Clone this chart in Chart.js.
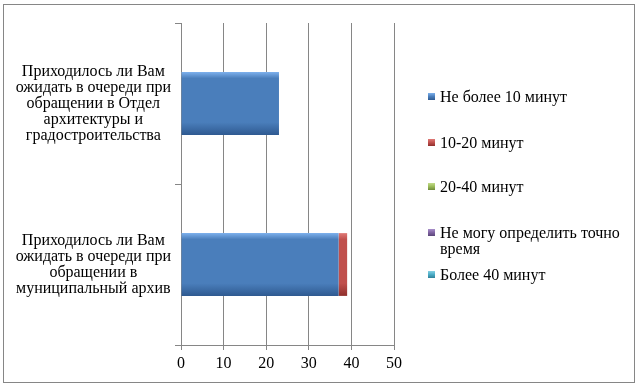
<!DOCTYPE html>
<html lang="ru">
  <head>
    <meta charset="UTF-8" />
    <title>Ожидание в очереди</title>
    <script src="https://cdn.jsdelivr.net/npm/chart.js"></script>
    <style>
      body { margin: 0; background: #fff; }
      #wrap { position: relative; width: 639px; height: 388px; }
      #frame {
        position: absolute; left: 3px; top: 4px; width: 630px; height: 377px;
        border: 1px solid #868686; box-sizing: content-box;
      }
      #myChart { position: absolute; left: 0; top: 0; }
      .leg {
        position: absolute; left: 428px; display: flex; align-items: flex-start;
        font: 16px "Liberation Serif", "Times New Roman", serif; line-height: 16px; color: #000;
      }
      .leg i { display: block; width: 7px; height: 7px; margin: 4px 5px 0 0; flex: none; }
      .leg span { max-width: 192px; }
    </style>
  </head>
  <body>
    <div id="wrap">
      <div id="frame"></div>
      <canvas id="myChart" width="639" height="388"></canvas>
    </div>

    <script>
      const categories = [
        ["Приходилось ли Вам", "ожидать в очереди при", "обращении в Отдел", "архитектуры и", "градостроительства"],
        ["Приходилось ли Вам", "ожидать в очереди при", "обращении в", "муниципальный архив"],
      ];
      const seriesNames = [
        "Не более 10 минут",
        "10-20 минут",
        "20-40 минут",
        "Не могу определить точно время",
        "Более 40 минут",
      ];
      const upTo10 = [23, 37];
      const from10to20 = [0, 2];
      const from20to40 = [0, 0];
      const cantSay = [0, 0];
      const over40 = [0, 0];
      const xTicks = [0, 10, 20, 30, 40, 50];

      // base, light, dark for each series (office palette)
      const colors = [
        ["#4a7ebb", "#7db0ec", "#2f5a91"],
        ["#c0504d", "#e07a77", "#8f2f2c"],
        ["#9bbb59", "#c3dc8a", "#6f8a3a"],
        ["#8064a2", "#a98fcb", "#5a4578"],
        ["#4bacc6", "#86d0e3", "#2f8098"],
      ];

      const serif = "'Liberation Serif', 'Times New Roman', serif";

      function barFill(c) {
        return (ctx) => {
          const chart = ctx.chart;
          const y = chart.scales.y;
          if (!y || ctx.type !== "data") return c[0];
          const mid = y.getPixelForValue(ctx.dataIndex);
          const half = (Math.abs(y.getPixelForValue(1) - y.getPixelForValue(0)) * 0.39) / 2;
          if (!isFinite(mid) || !isFinite(half) || half <= 0) return c[0];
          const g = chart.ctx.createLinearGradient(0, mid - half, 0, mid + half);
          g.addColorStop(0, c[1]);
          g.addColorStop(0.1, c[0]);
          g.addColorStop(0.8, c[0]);
          g.addColorStop(1, c[2]);
          return g;
        };
      }

      const values = [upTo10, from10to20, from20to40, cantSay, over40];
      const datasets = seriesNames.map((name, i) => ({
        label: name,
        data: values[i],
        backgroundColor: barFill(colors[i]),
        borderWidth: 0,
        barPercentage: 0.39,
        categoryPercentage: 1,
      }));

      const ctx = document.getElementById("myChart").getContext("2d");
      const myChart = new Chart(ctx, {
        type: "bar",
        data: { labels: categories, datasets: datasets },
        options: {
          indexAxis: "y",
          responsive: false,
          animation: false,
          layout: { padding: { top: 23, right: 245, left: 0, bottom: 0 } },
          plugins: { legend: { display: false }, tooltip: { enabled: false } },
          scales: {
            x: {
              stacked: true,
              min: 0,
              max: 50,
              afterBuildTicks: (s) => { s.ticks = xTicks.map((v) => ({ value: v })); },
              grid: { color: "#868686", tickLength: 5 },
              border: { color: "#868686" },
              ticks: { color: "#000", font: { family: serif, size: 16 }, padding: 4 },
              afterFit: (s) => { s.height = 43; },
            },
            y: {
              stacked: true,
              grid: { drawOnChartArea: false, color: "#868686", tickLength: 6 },
              border: { color: "#868686" },
              ticks: {
                color: "#000",
                crossAlign: "center",
                padding: 4,
                font: { family: serif, size: 16, lineHeight: 1 },
              },
              afterFit: (s) => { s.width = 181; s.paddingTop = 0; s.paddingBottom = 0; },
            },
          },
        },
      });
      myChart.update();

      // legend drawn as html to the right of the plot
      const legendTops = [89, 135, 179, 225, 267];
      const wrap = document.getElementById("wrap");
      seriesNames.forEach((name, i) => {
        const d = document.createElement("div");
        d.className = "leg";
        d.style.top = legendTops[i] + "px";
        const m = document.createElement("i");
        m.style.background = `linear-gradient(${colors[i][1]}, ${colors[i][0]} 50%, ${colors[i][2]})`;
        const t = document.createElement("span");
        t.textContent = name;
        d.appendChild(m);
        d.appendChild(t);
        wrap.appendChild(d);
      });
    </script>
  </body>
</html>
